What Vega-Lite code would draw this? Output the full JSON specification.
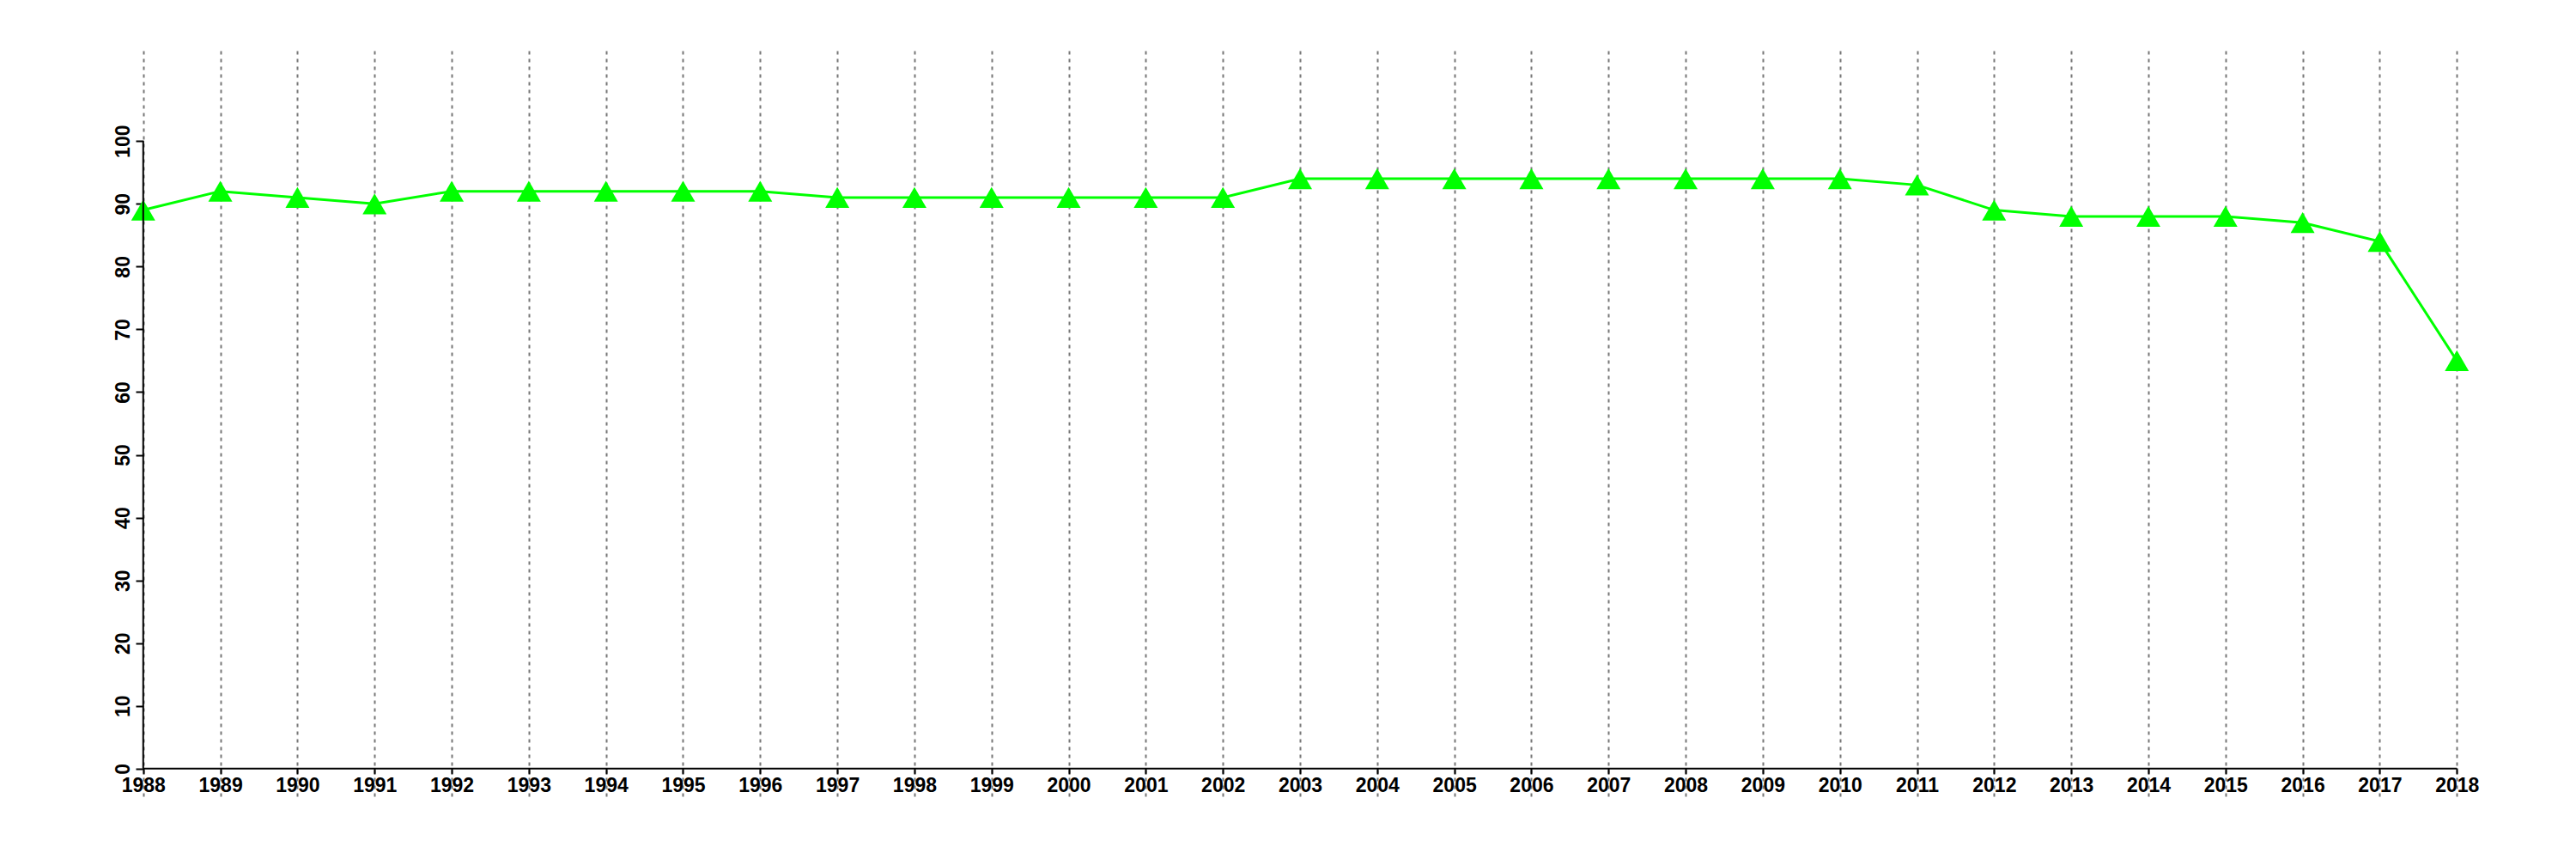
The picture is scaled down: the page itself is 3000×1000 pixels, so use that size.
{
  "$schema": "https://vega.github.io/schema/vega-lite/v6.json",
  "width": 2910,
  "height": 868,
  "autosize": "none",
  "padding": {"left": 59, "top": 59, "right": 31, "bottom": 73},
  "background": "white",
  "config": {"view": {"stroke": null}, "font": "Liberation Sans"},
  "data": {"values": [
    {"year": 1988, "value": 89}, {"year": 1989, "value": 92}, {"year": 1990, "value": 91},
    {"year": 1991, "value": 90}, {"year": 1992, "value": 92}, {"year": 1993, "value": 92},
    {"year": 1994, "value": 92}, {"year": 1995, "value": 92}, {"year": 1996, "value": 92},
    {"year": 1997, "value": 91}, {"year": 1998, "value": 91}, {"year": 1999, "value": 91},
    {"year": 2000, "value": 91}, {"year": 2001, "value": 91}, {"year": 2002, "value": 91},
    {"year": 2003, "value": 94}, {"year": 2004, "value": 94}, {"year": 2005, "value": 94},
    {"year": 2006, "value": 94}, {"year": 2007, "value": 94}, {"year": 2008, "value": 94},
    {"year": 2009, "value": 94}, {"year": 2010, "value": 94}, {"year": 2011, "value": 93},
    {"year": 2012, "value": 89}, {"year": 2013, "value": 88}, {"year": 2014, "value": 88},
    {"year": 2015, "value": 88}, {"year": 2016, "value": 87}, {"year": 2017, "value": 84},
    {"year": 2018, "value": 65}
  ]},
  "layer": [
    {
      "mark": {"type": "line", "color": "#00FF00", "strokeWidth": 3},
      "encoding": {
        "x": {
          "field": "year", "type": "quantitative",
          "scale": {"domain": [1986.8, 2019.2], "nice": false, "zero": false},
          "axis": {
            "title": null,
            "values": [1988,1989,1990,1991,1992,1993,1994,1995,1996,1997,1998,1999,2000,2001,2002,2003,2004,2005,2006,2007,2008,2009,2010,2011,2012,2013,2014,2015,2016,2017,2018],
            "format": "d",
            "domain": false,
            "offset": -33,
            "grid": true,
            "gridColor": "#777777",
            "gridDash": [4, 5],
            "gridWidth": 2,
            "gridOpacity": 1,
            "tickColor": "black",
            "tickWidth": 2,
            "tickSize": 7,
            "labelFont": "Liberation Sans",
            "labelFontWeight": "bold",
            "labelFontSize": 23,
            "labelColor": "black",
            "labelPadding": 2,
            "labelFlush": false,
            "labelOverlap": false
          }
        },
        "y": {
          "field": "value", "type": "quantitative",
          "scale": {"domain": [-4.4, 114.4], "nice": false, "zero": false},
          "axis": {
            "title": null,
            "values": [0,10,20,30,40,50,60,70,80,90,100],
            "domain": false,
            "offset": -108,
            "grid": false,
            "tickColor": "black",
            "tickWidth": 2,
            "tickSize": 9,
            "labelAngle": -90,
            "labelAlign": "center",
            "labelBaseline": "bottom",
            "labelFont": "Liberation Sans",
            "labelFontWeight": "bold",
            "labelFontSize": 23,
            "labelColor": "black",
            "labelPadding": 3,
            "labelFlush": false,
            "labelOverlap": false
          }
        }
      }
    },
    {
      "mark": {"type": "point", "shape": "triangle-up", "filled": true, "size": 784, "color": "#00FF00", "opacity": 1},
      "encoding": {
        "x": {"field": "year", "type": "quantitative"},
        "y": {"field": "value", "type": "quantitative"}
      }
    },
    {
      "data": {"values": [{}]},
      "mark": {"type": "rule", "color": "black", "strokeWidth": 2},
      "encoding": {
        "x": {"datum": 1988, "type": "quantitative"},
        "y": {"datum": 0, "type": "quantitative"},
        "y2": {"datum": 100}
      }
    },
    {
      "data": {"values": [{}]},
      "mark": {"type": "rule", "color": "black", "strokeWidth": 2},
      "encoding": {
        "x": {"datum": 1988, "type": "quantitative"},
        "x2": {"datum": 2018},
        "y": {"datum": 0, "type": "quantitative"}
      }
    }
  ]
}
